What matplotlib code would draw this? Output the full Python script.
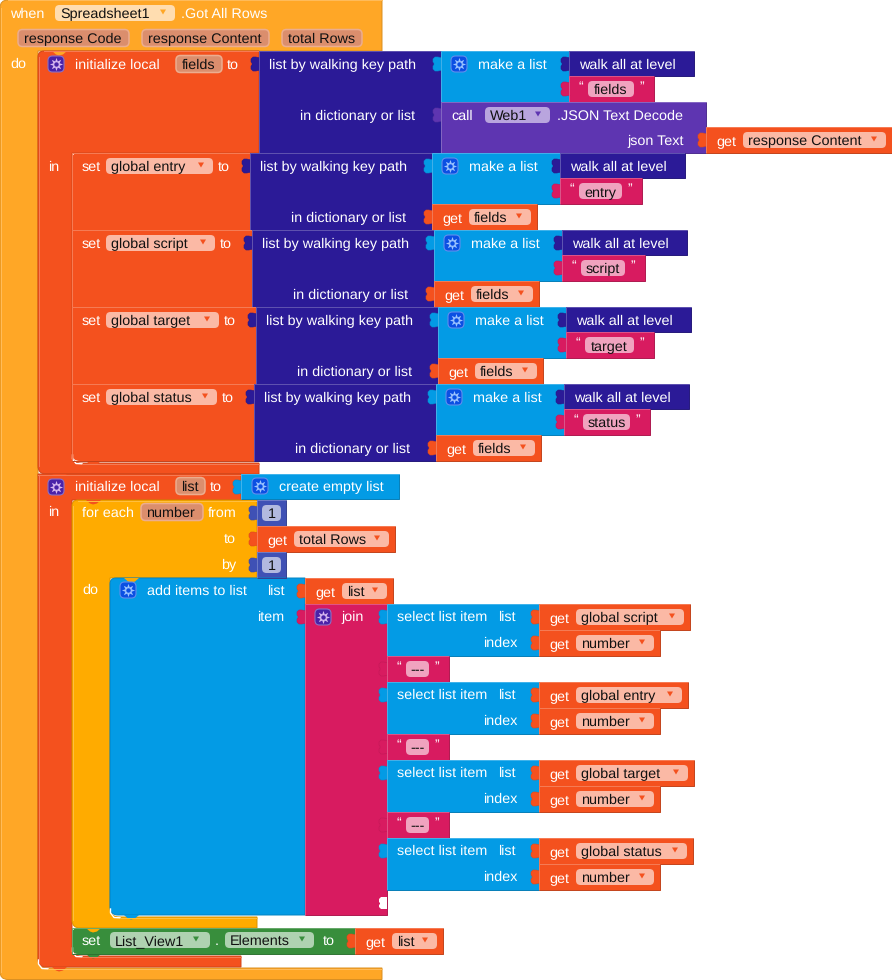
import matplotlib
matplotlib.use('Agg')
import matplotlib.pyplot as plt
from matplotlib.patches import PathPatch, FancyBboxPatch, Rectangle, Polygon
from matplotlib.path import Path
from matplotlib.colors import to_rgb

plt.rcParams['text.hinting'] = 'no_hinting'

# block colours
WHEN = '#FFA726'
LOCAL = '#F4511E'
KEYPATH = '#2B1A97'
LISTS = '#039BE5'
TEXT = '#D81B60'
CALL = '#5E35B1'
LOOP = '#FFAB00'
MATH = '#3F51B5'
SETTER = '#388E3C'

# labels
EVENT_PARAMS = ['response Code', 'response Content', 'total Rows']
SET_NAMES = ['global entry', 'global script', 'global target', 'global status']
KEY_NAMES = ['entry', 'script', 'target', 'status']
JOIN_NAMES = ['global script', 'global entry', 'global target', 'global status']

FONT = 'Liberation Sans'
FS = 10.4
BASE = 4.8

fig = plt.figure(figsize=(8.92, 9.8), dpi=100)
ax = fig.add_axes([0, 0, 1, 1])
ax.set_xlim(0, 892)
ax.set_ylim(980, 0)
ax.axis('off')


def mix(col, other, t):
    a = to_rgb(col)
    b = to_rgb(other)
    return tuple(a[i] * (1 - t) + b[i] * t for i in range(3))


def label(x, cy, s, color='white', ha='left', size=FS):
    ax.text(x, cy + BASE, s, color=color, ha=ha, va='baseline', fontsize=size, family=FONT)


def round_path(points):
    # points are (x, y, radius)
    verts = []
    codes = []
    n = len(points)
    for i in range(n):
        x, y, r = points[i]
        px, py, _ = points[i - 1]
        nx, ny, _ = points[(i + 1) % n]
        if r == 0:
            verts.append((x, y))
            codes.append(Path.LINETO)
            continue
        d1 = max(abs(x - px), abs(y - py))
        d2 = max(abs(x - nx), abs(y - ny))
        verts.append((x + (px - x) * r / d1, y + (py - y) * r / d1))
        codes.append(Path.LINETO)
        verts.append((x, y))
        codes.append(Path.CURVE3)
        verts.append((x + (nx - x) * r / d2, y + (ny - y) * r / d2))
        codes.append(Path.CURVE3)
    codes[0] = Path.MOVETO
    verts.append(verts[0])
    codes.append(Path.CLOSEPOLY)
    return Path(verts, codes)


def edges(x0, y0, x1, y1, col):
    ax.plot([x0, x0, x1], [y1, y0, y0], color=mix(col, 'white', 0.25), lw=0.7, solid_capstyle='butt')
    ax.plot([x0, x1, x1], [y1, y1, y0], color=mix(col, 'black', 0.2), lw=0.7, solid_capstyle='butt')


def block(x0, y0, x1, y1, col, tab=False):
    ax.add_patch(Rectangle((x0, y0), x1 - x0, y1 - y0, fc=col, ec='none'))
    edges(x0, y0, x1, y1, col)
    if tab:
        left_tab(x0, y0 + 6, col)


def left_tab(x, y, col):
    shape = [(1, 1), (-3, 0), (-6, 0), (-8, 2), (-8, 5), (-7, 6), (-7, 8), (-8, 9),
             (-8, 12), (-6, 14), (-3, 14), (1, 13)]
    pts = [(x + a, y + b) for a, b in shape]
    ax.add_patch(Polygon(pts, closed=True, fc=col, ec=mix(col, 'black', 0.1), lw=0.4))
    ax.add_patch(Rectangle((x - 1, y + 1), 3, 12, fc=col, ec='none'))


def empty_socket(x, y):
    shape = [(1, 0), (-3, 0), (-6, 0), (-8, 2), (-8, 5), (-7, 6), (-7, 7), (-8, 8),
             (-8, 10), (-6, 12), (1, 12)]
    ax.add_patch(Polygon([(x + a, y + b) for a, b in shape], closed=True, fc='white', ec='none'))


def notch(x0, y, col):
    # statement connector hanging below a block
    pts = [(x0 + 14, y), (x0 + 18, y + 3.5), (x0 + 21, y + 4.5), (x0 + 25, y + 3.5), (x0 + 29, y)]
    ax.add_patch(Polygon(pts, closed=True, fc=col, ec='none'))


def c_block(x0, y0, head_r, head_b, arm_r, foot_t, foot_r, foot_b, col, top_r=0):
    pts = [(x0, y0, top_r), (head_r, y0, 0), (head_r, head_b, 0), (arm_r, head_b, 0),
           (arm_r, foot_t, 9), (foot_r, foot_t, 0), (foot_r, foot_b, 0), (x0, foot_b, 8)]
    ax.add_patch(PathPatch(round_path(pts), fc=col, ec=mix(col, 'black', 0.15), lw=0.7))
    ax.plot([x0 + 0.5, x0 + 0.5], [y0 + max(top_r, 1), foot_b - 8], color=mix(col, 'white', 0.25), lw=0.7)
    ax.plot([x0 + top_r, head_r], [y0 + 0.5, y0 + 0.5], color=mix(col, 'white', 0.25), lw=0.7)
    # light line round the inner corner
    inner = [(arm_r + 0.5, foot_t - 8), (arm_r + 0.5, foot_t - 4), (arm_r + 4, foot_t + 0.5), (arm_r + 10, foot_t + 0.8)]
    ax.plot(*zip(*inner), color='white', lw=1.0)
    ax.plot([arm_r + 10, foot_r], [foot_t + 0.5, foot_t + 0.5], color=mix(col, 'white', 0.25), lw=0.7)


def pill(x0, y0, x1, y1, fc, ec='none', lw=0):
    r = 4.5
    ax.add_patch(FancyBboxPatch((x0 + r, y0 + r), x1 - x0 - 2 * r, y1 - y0 - 2 * r,
                                boxstyle='round,pad=%s,rounding_size=%s' % (r, r),
                                fc=fc, ec=ec, lw=lw, zorder=3))


def arrow(x, cy, col):
    ax.add_patch(Polygon([(x - 3, cy - 2.5), (x + 3, cy - 2.5), (x, cy + 2.5)], closed=True, fc=col, ec='none', zorder=4))


def dropdown(x0, x1, cy, s, tint, col, arrow_back=12):
    pill(x0, cy - 8, x1, cy + 8, tint)
    ax.text(x0 + 5, cy + BASE, s, color='#111111', fontsize=FS, family=FONT, zorder=5)
    arrow(x1 - arrow_back, cy - 1, col)


def param(x0, x1, cy, s):
    pill(x0, cy - 8.5, x1, cy + 8.5, '#DB8E6D', ec='#ECAD8F', lw=1.1)
    ax.text(x0 + 5.5, cy + BASE, s, color='#111111', fontsize=FS, family=FONT, zorder=5)


def gear(x0, cy, box, spoke):
    pill(x0, cy - 8, x0 + 16, cy + 8, box, ec=mix(box, 'white', 0.35), lw=0.8)
    ax.plot([x0 + 8], [cy], marker=(8, 1, 0), ms=9.5, color=spoke, mew=0, zorder=5)
    ax.plot([x0 + 8], [cy], marker='o', ms=3.2, color=box, mew=0, zorder=6)


def get_block(x0, y0, x1, s):
    block(x0, y0, x1, y0 + 26, LOCAL, tab=True)
    label(x0 + 10, y0 + 13, 'get')
    dropdown(x0 + 37, x1 - 6, y0 + 13, s, '#FBB9A5', LOCAL)


def string_block(x0, y0, x1, s):
    block(x0, y0, x1, y0 + 26, TEXT, tab=True)
    cy = y0 + 13
    label(x0 + 9, cy - 2, '\u201c', size=10)
    label(x1 - 15, cy - 2, '\u201d', size=10)
    pill(x0 + 19, cy - 8, x1 - 20, cy + 8, '#F0A3BF')
    ax.text((x0 + x1) / 2 - 0.5, cy + BASE, s, color='#111111', ha='center', fontsize=FS, family=FONT, zorder=5)


def number_block(x0, y0):
    block(x0, y0, x0 + 29, y0 + 26, MATH, tab=True)
    pill(x0 + 5, y0 + 5, x0 + 24, y0 + 21, '#B2B9DF')
    ax.text(x0 + 14.5, y0 + 13 + BASE, '1', color='#111111', ha='center', fontsize=FS, family=FONT, zorder=5)


def make_list(x0, y0, key_right, s):
    # make a list + walk all at level + key string
    block(x0, y0, x0 + 128, y0 + 51, LISTS, tab=True)
    gear(x0 + 10, y0 + 13, '#0B4FE3', '#9CC4FF')
    label(x0 + 37, y0 + 13, 'make a list')
    block(x0 + 128, y0, x0 + 253, y0 + 25, KEYPATH, tab=True)
    label(x0 + 138, y0 + 13, 'walk all at level')
    string_block(x0 + 128, y0 + 25, key_right, s)


# event block
c_block(0, 0, 382, 51, 38, 968, 382, 979.5, WHEN, top_r=8)
label(10, 13, 'when')
dropdown(55, 175, 13, 'Spreadsheet1', '#FFDDB0', WHEN)
label(181, 13, '.Got All Rows')
param(18, 129, 38, EVENT_PARAMS[0])
param(142, 269, 38, EVENT_PARAMS[1])
param(282, 362, 38, EVENT_PARAMS[2])
label(10, 63, 'do')

# first local
c_block(38, 51, 259, 153, 72, 463, 259, 474, LOCAL, top_r=6)
gear(48, 64, '#4A22A8', '#D9B8F0')
label(75, 64, 'initialize local')
param(176, 222, 64, 'fields')
label(227, 64, 'to')
label(48, 166, 'in')

block(259, 51, 441, 153, KEYPATH, tab=True)
label(269, 64, 'list by walking key path')
label(415, 115, 'in dictionary or list', ha='right')
make_list(441, 51, 654, 'fields')
block(441, 102, 706, 153, CALL, tab=True)
label(451, 115, 'call')
dropdown(485, 550, 115, 'Web1', '#B9A5DE', CALL)
label(557, 115, '.JSON Text Decode')
label(684, 140, 'json Text', ha='right')
get_block(706, 127, 892, 'response Content')

# the four set blocks
set_shift = [0, 2, 6, 4]
set_pill_end = [213, 215, 219, 217]
key_end = [642, 645, 654, 650]
for i in range(4):
    top = 153 + 77 * i
    dx = set_shift[i]
    if i == 0:
        pts = [(72, top, 6), (250 + dx, top, 0), (250 + dx, top + 77, 0), (72, top + 77, 0)]
        ax.add_patch(PathPatch(round_path(pts), fc=LOCAL, ec='none'))
        edges(72, top, 250 + dx, top + 77, LOCAL)
    elif i == 3:
        pts = [(72, top, 0), (250 + dx, top, 0), (250 + dx, top + 77, 0), (72, top + 77, 8)]
        ax.add_patch(PathPatch(round_path(pts), fc=LOCAL, ec='none'))
        edges(72, top, 250 + dx, top + 77, LOCAL)
    else:
        block(72, top, 250 + dx, top + 77, LOCAL)
    label(82, top + 13, 'set')
    dropdown(106, set_pill_end[i], top + 13, SET_NAMES[i], '#FBB9A5', LOCAL)
    label(set_pill_end[i] + 5, top + 13, 'to')
    block(250 + dx, top, 432 + dx, top + 77, KEYPATH, tab=True)
    label(260 + dx, top + 13, 'list by walking key path')
    label(406 + dx, top + 64, 'in dictionary or list', ha='right')
    make_list(432 + dx, top, key_end[i], KEY_NAMES[i])
    get_block(432 + dx, top + 51, 537 + dx, 'fields')

# second local
c_block(38, 474, 241, 500, 72, 956, 241, 967, LOCAL)
gear(48, 487, '#4A22A8', '#D9B8F0')
label(75, 486, 'initialize local')
param(176, 205, 486, 'list')
label(210, 486, 'to')
label(48, 511, 'in')
block(241, 474, 399, 499, LISTS, tab=True)
gear(252, 486, '#0B4FE3', '#9CC4FF')
label(279, 486, 'create empty list')

# for each
c_block(72, 500, 257, 578, 110, 917, 257, 928, LOOP, top_r=6)
label(82, 512, 'for each')
param(141, 203, 512, 'number')
label(208, 512, 'from')
label(236, 538, 'to', ha='right')
label(236, 564, 'by', ha='right')
label(82, 589, 'do')
number_block(257, 500)
get_block(257, 526, 395, 'total Rows')
number_block(257, 552)

# add items
pts = [(110, 578, 6), (305, 578, 0), (305, 915, 0), (110, 915, 8)]
ax.add_patch(PathPatch(round_path(pts), fc=LISTS, ec=mix(LISTS, 'black', 0.15), lw=0.7))
gear(120, 590, '#0B4FE3', '#9CC4FF')
label(147, 590, 'add items to list')
label(267, 590, 'list')
label(284, 616, 'item', ha='right')
get_block(305, 578, 393, 'list')

# join
block(305, 604, 387, 915, TEXT, tab=True)
gear(315, 617, '#4A22A8', '#D9B8F0')
label(341, 616, 'join')
empty_socket(387, 897)
for i in range(4):
    top = 604 + 78 * i
    block(387, top, 539, top + 52, LISTS, tab=True)
    label(397, top + 12, 'select list item')
    label(498, top + 12, 'list')
    label(517, top + 38, 'index', ha='right')
    get_end = [690, 688, 694, 693][i]
    get_block(539, top, get_end, JOIN_NAMES[i])
    get_block(539, top + 26, 660, 'number')
    if i < 3:
        string_block(387, top + 52, 449, '---')

# set list view
pts = [(72, 928, 6), (355, 928, 0), (355, 954, 0), (72, 954, 6)]
ax.add_patch(PathPatch(round_path(pts), fc=SETTER, ec='none'))
edges(72, 928, 355, 954, SETTER)
label(82, 940, 'set')
dropdown(110, 210, 940, 'List_View1', '#AFD2B1', SETTER, arrow_back=14)
label(215, 940, '.')
dropdown(225, 314, 940, 'Elements', '#AFD2B1', SETTER)
label(323, 940, 'to')
get_block(355, 928, 443, 'list')

# statement connectors
notch(38, 51, WHEN)
notch(72, 153, LOCAL)
notch(72, 230, LOCAL)
notch(72, 307, LOCAL)
notch(72, 384, LOCAL)
notch(72, 461, LOCAL)
notch(38, 474, LOCAL)
notch(72, 500, LOCAL)
notch(110, 578, LOOP)
notch(110, 915, LISTS)
notch(72, 928, LOOP)
notch(72, 954, SETTER)
notch(38, 967, LOCAL)

fig.savefig('out.png', dpi=100)
